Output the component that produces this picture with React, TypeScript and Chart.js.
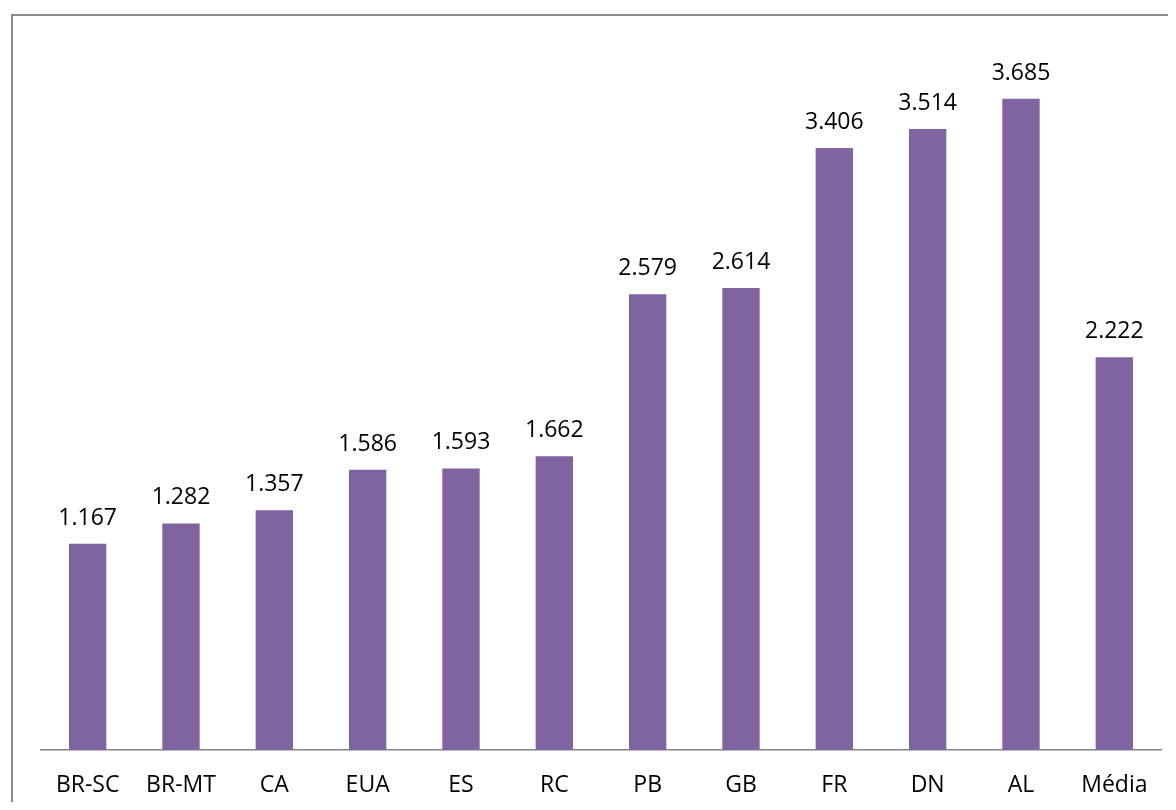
import React, { useEffect, useRef } from "react";
import { Chart, registerables } from "chart.js";

Chart.register(...registerables);

const categories = ["BR-SC", "BR-MT", "CA", "EUA", "ES", "RC", "PB", "GB", "FR", "DN", "AL", "Média"];
const values = [1167, 1282, 1357, 1586, 1593, 1662, 2579, 2614, 3406, 3514, 3685, 2222];

const FONT = "'Open Sans', sans-serif";
const FONT_SIZE = 23;

function fmt(v: number): string {
  const s = String(Math.round(v));
  return s.replace(/\B(?=(\d{3})+(?!\d))/g, ".");
}

const valueLabels = {
  id: "valueLabels",
  afterDatasetsDraw(chart: any) {
    const ctx = chart.ctx;
    const meta = chart.getDatasetMeta(0);
    ctx.save();
    ctx.font = `${FONT_SIZE}px ${FONT}`;
    ctx.fillStyle = "#000000";
    ctx.textAlign = "center";
    ctx.textBaseline = "alphabetic";
    meta.data.forEach((bar: any, i: number) => {
      ctx.fillText(fmt(values[i]), bar.x, bar.y - 19);
    });
    ctx.restore();
  },
};

export default function App() {
  const ref = useRef<HTMLCanvasElement | null>(null);
  useEffect(() => {
    if (!ref.current) return;
    const chart = new Chart(ref.current, {
      type: "bar",
      data: {
        labels: categories,
        datasets: [
          {
            data: values,
            backgroundColor: "#8064A2",
            borderWidth: 0,
            categoryPercentage: 1,
            barPercentage: 0.4,
          },
        ],
      },
      options: {
        animation: false,
        responsive: false,
        maintainAspectRatio: false,
        events: [],
        layout: { padding: { left: 33, right: 15, top: 35, bottom: 0 } },
        plugins: { legend: { display: false }, tooltip: { enabled: false } },
        scales: {
          x: {
            grid: { display: false, drawTicks: false },
            border: { display: true, color: "#868686", width: 1.5 },
            ticks: {
              color: "#000000",
              font: { family: FONT, size: FONT_SIZE },
              padding: 22,
              maxRotation: 0,
              autoSkip: false,
            },
            afterFit(scale: any) {
              scale.height = 52;
            },
          },
          y: {
            display: false,
            min: 0,
            max: 4000,
          },
        },
      },
      plugins: [valueLabels],
    });
    return () => chart.destroy();
  }, []);

  return (
    <div style={{ position: "relative", width: 1168, height: 794, overflow: "hidden" }}>
      <div
        style={{
          position: "absolute",
          left: 3,
          top: 6,
          width: 1400,
          height: 1000,
          border: "2px solid #898989",
          boxSizing: "border-box",
        }}
      />
      <canvas
        ref={ref}
        width={1168}
        height={794}
        style={{ position: "absolute", left: 0, top: 0, width: 1168, height: 794 }}
      />
    </div>
  );
}
